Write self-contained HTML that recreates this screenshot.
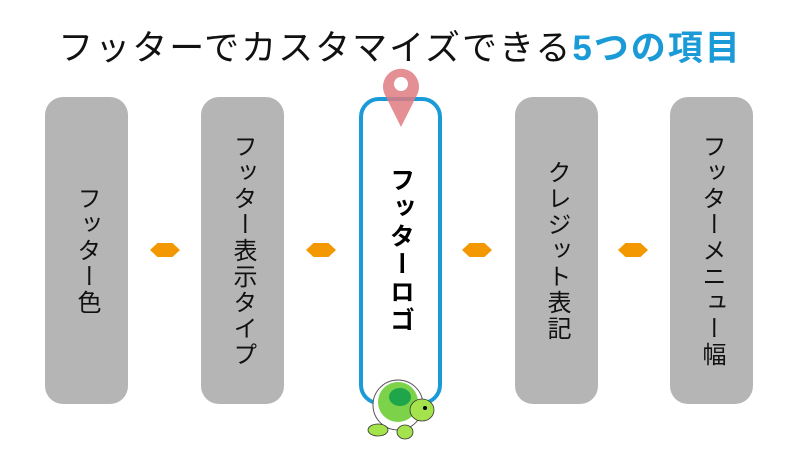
<!DOCTYPE html>
<html><head><meta charset="utf-8"><style>
body{margin:0;width:800px;height:450px;background:#fff;position:relative;overflow:hidden;font-family:"Liberation Sans","Noto Sans CJK JP",sans-serif}
.t{position:absolute;top:20px;left:0;width:800px;text-align:center;font-size:35px;color:#111;letter-spacing:2px;white-space:nowrap}
.t b{color:#1a9ad6}
.b{position:absolute;top:97px;width:83px;height:307px;background:#b5b5b5;border-radius:18px;display:flex;align-items:center;justify-content:center}
.b span{writing-mode:vertical-rl;font-size:24px;color:#111;letter-spacing:2px}
.a{position:absolute;top:97px;left:359px;width:75px;height:300px;border:4px solid #1a9ad6;border-radius:20px;background:#fff;display:flex;align-items:center;justify-content:center}
.a span{writing-mode:vertical-rl;font-size:25px;font-weight:bold;color:#000;letter-spacing:3px}
.h{position:absolute;top:243px;width:30px;height:14px;background:#f39800;clip-path:polygon(25% 0,75% 0,100% 50%,75% 100%,25% 100%,0 50%)}
</style></head><body>
<div class="t">フッターでカスタマイズできる<b>5つの項目</b></div>
<div class="b" style="left:45px"><span>フッター色</span></div>
<div class="b" style="left:201px"><span>フッター表示タイプ</span></div>
<div class="a"><span>フッターロゴ</span></div>
<div class="b" style="left:515px"><span>クレジット表記</span></div>
<div class="b" style="left:670px"><span>フッターメニュー幅</span></div>
<div class="h" style="left:150px"></div>
<div class="h" style="left:306px"></div>
<div class="h" style="left:462px"></div>
<div class="h" style="left:618px"></div>
<svg style="position:absolute;left:0;top:0" width="800" height="450">
<path d="M401 127 L385 95 A18 18 0 1 1 417 95 Z" fill="#df7b80" opacity="0.85"/>
<circle cx="401" cy="84" r="7" fill="#fff"/>
<circle cx="398" cy="405" r="25" fill="#fff" stroke="#555" stroke-width="1"/>
<ellipse cx="398" cy="402" rx="20" ry="20" fill="#7cd34a"/>
<ellipse cx="400" cy="397" rx="11" ry="9" fill="#1fa64a"/>
<ellipse cx="422" cy="410" rx="12" ry="11" fill="#a5e34c" stroke="#333" stroke-width="0.8"/>
<circle cx="425" cy="408" r="2" fill="#000"/>
<ellipse cx="378" cy="430" rx="10" ry="6" fill="#a5e34c" stroke="#333" stroke-width="0.8"/>
<ellipse cx="405" cy="432" rx="8" ry="7" fill="#a5e34c" stroke="#333" stroke-width="0.8"/>
</svg>
</body></html>
